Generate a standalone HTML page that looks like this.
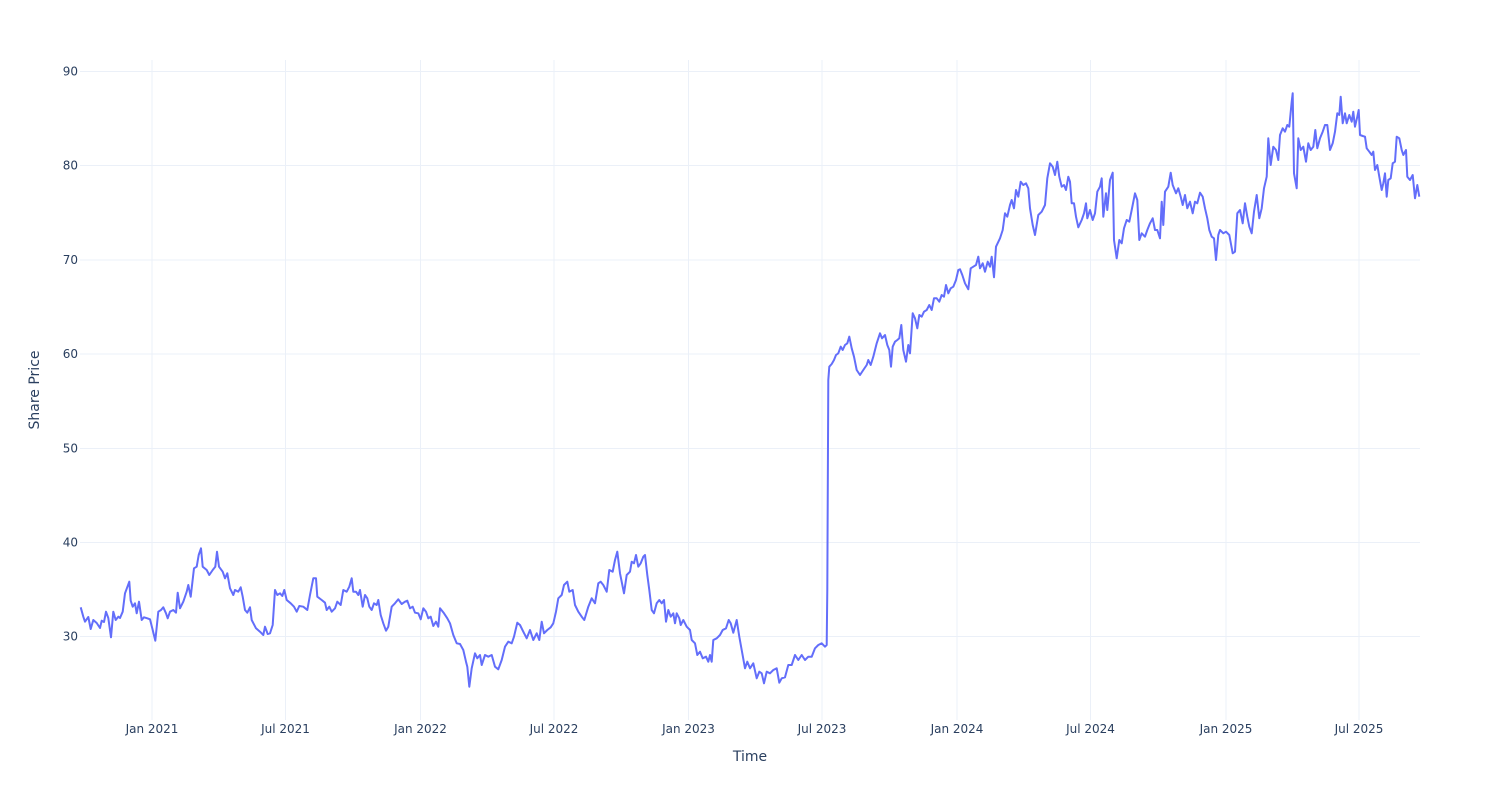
<!DOCTYPE html>
<html><head><meta charset="utf-8"><style>
html,body{margin:0;padding:0;background:#fff;}
svg{display:block;font-family:"DejaVu Sans","Liberation Sans",sans-serif;}
</style></head><body>
<svg width="1500" height="800" viewBox="0 0 1500 800" xmlns="http://www.w3.org/2000/svg">
<rect width="1500" height="800" fill="#fff"/>
<g stroke="#ebf0f8" stroke-width="1">
<line x1="152" y1="60" x2="152" y2="720"/>
<line x1="285.5" y1="60" x2="285.5" y2="720"/>
<line x1="420.5" y1="60" x2="420.5" y2="720"/>
<line x1="554" y1="60" x2="554" y2="720"/>
<line x1="688.5" y1="60" x2="688.5" y2="720"/>
<line x1="822" y1="60" x2="822" y2="720"/>
<line x1="957" y1="60" x2="957" y2="720"/>
<line x1="1090.5" y1="60" x2="1090.5" y2="720"/>
<line x1="1226" y1="60" x2="1226" y2="720"/>
<line x1="1359" y1="60" x2="1359" y2="720"/>
<line x1="80" y1="71.5" x2="1420" y2="71.5"/>
<line x1="80" y1="165.5" x2="1420" y2="165.5"/>
<line x1="80" y1="260" x2="1420" y2="260"/>
<line x1="80" y1="354" x2="1420" y2="354"/>
<line x1="80" y1="448.5" x2="1420" y2="448.5"/>
<line x1="80" y1="542.5" x2="1420" y2="542.5"/>
<line x1="80" y1="636.5" x2="1420" y2="636.5"/>
</g>
<g fill="#2a3f5f" font-size="12" text-anchor="end">
<text x="78" y="75.5">90</text>
<text x="78" y="169.5">80</text>
<text x="78" y="264">70</text>
<text x="78" y="358">60</text>
<text x="78" y="452.5">50</text>
<text x="78" y="546.5">40</text>
<text x="78" y="640.5">30</text>
</g>
<g fill="#2a3f5f" font-size="12" text-anchor="middle">
<text x="152" y="733">Jan 2021</text>
<text x="285.5" y="733">Jul 2021</text>
<text x="420.5" y="733">Jan 2022</text>
<text x="554" y="733">Jul 2022</text>
<text x="688.5" y="733">Jan 2023</text>
<text x="822" y="733">Jul 2023</text>
<text x="957" y="733">Jan 2024</text>
<text x="1090.5" y="733">Jul 2024</text>
<text x="1226" y="733">Jan 2025</text>
<text x="1359" y="733">Jul 2025</text>
</g>
<text x="750" y="761" fill="#2a3f5f" font-size="14" text-anchor="middle">Time</text>
<text x="0" y="0" fill="#2a3f5f" font-size="14" text-anchor="middle" transform="translate(39,390) rotate(-90)">Share Price</text>
<polyline fill="none" stroke="#636efa" stroke-width="2" stroke-linejoin="round" points="
80.7,607.3 83.3,616.7 85,621.7 88.3,617 90.7,629 93.3,620 96.7,623 100,628 101.7,620.7 104,622 106,611.7 108.3,618 111,637.3 113.3,611.7 115.7,620 118.3,616.7 120,618 122.7,611.7 125,593.3 129.3,581.7 130.7,600.7 132.7,606.7 135,603.3 136.7,613.3 139,601.7 141.7,620 144,617.3 147.3,618.3 150,619.3 152.7,630 155.3,640.7 158.3,611.7 161,610 163.3,607.3 166,613.3 167.7,618.3 170,611.7 173.3,610 176,612.7 177.7,592.7 180,608.3 183.3,601.7 186.7,591.7 188.3,585 190.7,596.7 194,568.3 196.7,566.7 198.7,555 201,548.3 202.7,566.7 206.7,570 209.3,575 212.7,570 215.3,566.7 217,551.7 219,566.7 222.7,571.7 225,578.3 227.3,573.3 230,588.3 233.3,595 235,590 238.3,591.7 240.7,587.3 242.7,596.7 245,610 247.3,612.7 250,607.3 251.7,620 256,628.3 260,631.7 263.3,635 265,626.7 267.7,634 270,633.3 272.7,625 275,590 277.3,595 280,593.3 282.3,596 284.3,590 286.7,600 290.7,603.3 294,606.7 296.7,611.7 299.3,606 303.3,606.7 307.3,610 310,595 313.3,578.3 316,578.3 317.3,596.7 321.7,600 325,602.7 326.7,610 329.3,606.7 331.7,611.7 335,608.3 337.3,601.7 340.7,605 343.3,590 346.7,591.7 349.3,586.7 351.7,578.3 353.3,591.7 356,591.7 358.3,595
360,590 362.7,606.7 365,595 367.3,598.3 369.3,606.7 371.7,610 374,603.3 376.7,605 378.3,600 380.7,615 383.3,623.3 386,630.7 388.3,626.7 391.7,606.7 395,603.3 398.3,599.3 401.7,604 405,601.7 407.3,600.7 410,608.3 412.7,606.7 415,612.7 418.3,613.3 420.7,619.3 423.3,608.3 426,611.7 428.3,618.3 430.7,616.7 433.3,626 436,621.7 438.3,626.7 440,608.3 444,613.3 447.3,618.3 450,623.3 453.3,635 456.7,643.3 460,644 463.3,650 466,661.7 467.3,666.7 469.3,686.7 471.7,668.3 475,653.3 477.3,658.3 480,655 481.7,665 485,655 488.3,656.7 491.7,655 495,666.7 498.3,669.3 501.7,660 505,646.7 508.3,641.7 511.7,643.3 514,636.7 517.3,622.7 520,625 523.3,631.7 526.7,638.3 530,630 533.3,640 536.7,633.3 539.3,640 541.7,621.7 544,633.3 547.3,630 550.7,627.3 553.3,623.3 556,611.7 558.3,598.3 561.7,595 564,585 567.3,581.7 569.3,591.7 572.7,590 575,605 578.3,611.7 581.7,616.7 584.3,620 588.3,606.7 591.7,598.3 595,603.3 598.3,583.3 600.7,581.7 603.3,585 606.7,591.7 609.3,570 612.7,571.7 615,560 617.3,551.7 620,573.3 624,593.3 626.7,575 630,571.7 631.7,561.7 634,563.3 636,555 638.3,566.7 640.7,563.3 643.3,556.7 645,555 647.3,575
649.3,590 651.7,610 654,613.3 656.7,603.3 659.3,600 661.7,603.3 664,600 666,621.7 668.3,610 670.7,616.7 673.3,613.3 675,623.3 676.7,613.3 679.3,618.3 680.7,625 683.3,620 686.7,626.7 690,630 691.7,640 695,643.3 697.3,655 700,651.7 702.7,658.3 706,656.7 708.3,661.7 710,655 711.7,661.7 713.3,640 716.7,638.3 720,635 722.7,630 726,628.3 728.7,620 730.7,623.3 733.3,632.7 736.7,620 739.3,636.7 741.7,650 745,668.3 747.3,661.7 750,668.3 753.3,663.3 756.7,678.3 759.3,671.7 761.7,673.3 764,683.3 766.7,671.7 770,673.3 773.3,670 776.7,668.3 779.3,682.7 781.7,678.3 785,677.3 788.3,665 791.7,665 795,655 798.3,660 801.7,655 805,660 808.3,656.7 811.7,656.7 815,648.3 818.3,645 821.7,643.3 825,646.7 826.7,645 827.3,590 828.3,380
829.3,366.7 831.7,364 834,360 836,355 838.3,353.3 840.7,346.7 842.7,350 845,345 847.3,343.3 849.3,336.7 851.7,348.3 854,356.7 856.7,370 860,375 863.3,370 866.7,365 868.3,360 870.7,365 873.3,356.7 876.7,343.3 880,333.3 882,338.3 885,335 887.3,345 889.3,350 891,366.7 892.7,346.7 895,341.7 897.3,340 899.3,338.3 901.3,325 903.3,350 906,361.7 908.3,345 910,353.3 912.7,313.3 915,318.3 917.3,328.3 919.3,315 921.7,316.7 924,311.7 926.7,310 929.3,305 931.7,310 934,298.3 936.7,298.3 939.3,301.7 941.7,295 944,296.7 946,285 948.3,293.3 950.7,288.3 953.3,286.7 956,280 958.3,270 960,269.3 962.3,275 965,283.3 968.3,289.3 970.7,268.3 973.3,266.7 976,265 978.3,256.7 980,268.3 982.7,263.3 985,271.7 987.7,261.7 990,266.7 991.7,256.7 994,277.3 996,246.7
1000,238.3 1002.7,230 1005,213.3 1007.3,216.7 1010,205 1011.7,200 1014,208.3 1016,190 1018.3,196.7 1020.7,181.7 1023.3,185 1026,183.3 1028.3,188.3 1030,208.3 1032.7,225 1035,235 1038.3,215 1041.7,211.7 1045,205 1047.3,178.3 1050,163.3 1052.7,166.7 1055,175 1057.3,161.7 1059.3,176.7 1061.7,186.7 1064,185 1066,190 1068.3,176.7 1070,181.7 1071.7,203.3 1074,203.3 1076,216.7 1078.3,227.3 1081.7,220 1084,213.3 1086,203.3 1087.3,218.3 1090,210 1092.7,220 1095,213.3 1097.3,191.7 1100,186.7 1101.7,178.3 1103.3,216.7 1106,193.3 1107.3,210 1110,180 1112.7,172.7 1114,240 1116.7,258.3 1119.3,240 1121.7,243.3 1124,228.3 1126.7,220 1129.3,221.7 1131.7,210 1135,193.3 1137.3,200 1139.3,240 1141.7,233.3 1145,236.7 1147.3,230 1150,223.3 1152.7,218.3 1155,230 1157.3,230 1160,238.3 1161.7,201.7 1163.3,225 1165,191.7 1168.3,186.7 1170.7,172.7 1172.7,185 1176,193.3 1178.3,188.3 1180.7,196.7 1182.7,205 1185,195 1187.3,208.3 1190,201.7 1192.7,213.3 1195,201.7 1197.3,203.3 1200,192.7 1202.7,196.7 1205,208.3 1207.3,218.3 1209.3,230 1211.7,236.7 1214,238.3 1216,260 1218.3,235
1220,230 1223.3,233.3 1226,231.7 1229.3,235 1232.7,253.3 1235,251.7 1237.3,213.3 1240,210 1242.7,223.3 1245,203.3 1247.3,216.7 1249.3,226.7 1251.7,233.3 1254,211.7 1256.7,195 1259.3,218.3 1261.7,208.3 1264,188.3 1266.7,176.7 1268.3,138.3 1270.7,165 1273.3,146.7 1276,150 1278.3,160 1280,135 1282.7,128.3 1285,131.7 1287.3,125 1289.3,126.7 1291.7,101.7 1292.7,93.3 1294,173.3 1296.7,188.3 1298.3,138.3 1300.7,150 1303.3,146.7 1306,161.7 1308.3,143.3 1310.7,150 1313.3,146.7 1315.3,130 1317.3,148.3 1320,138.3 1322.7,131.7 1325,125 1327.3,125 1330,150 1332.7,143.3 1335,131.7 1337.3,113.3 1339.3,115 1340.7,96.7 1342.7,123.3 1345,113.3 1346.7,123.3 1349.3,115 1351.7,121.7 1353.3,111.7 1355,126.7 1357.3,116.7 1358.7,110 1360,135 1362.7,136 1365,136.7 1366.7,148.3 1369.3,151.7 1371.7,155 1373.3,151.7 1375,170 1377.3,165 1379.3,176.7 1381.7,190 1383.3,183.3 1385,173.3 1386.7,196.7 1388.3,180 1390.7,178.3 1392.7,163.3 1395,161.7 1396.7,136.7 1399.3,138.3 1401.7,150 1403.3,155 1406,150 1407.3,176.7 1410,180 1412.7,175 1415,198.3 1417.3,185 1419.3,196.7"/>
</svg>
</body></html>
